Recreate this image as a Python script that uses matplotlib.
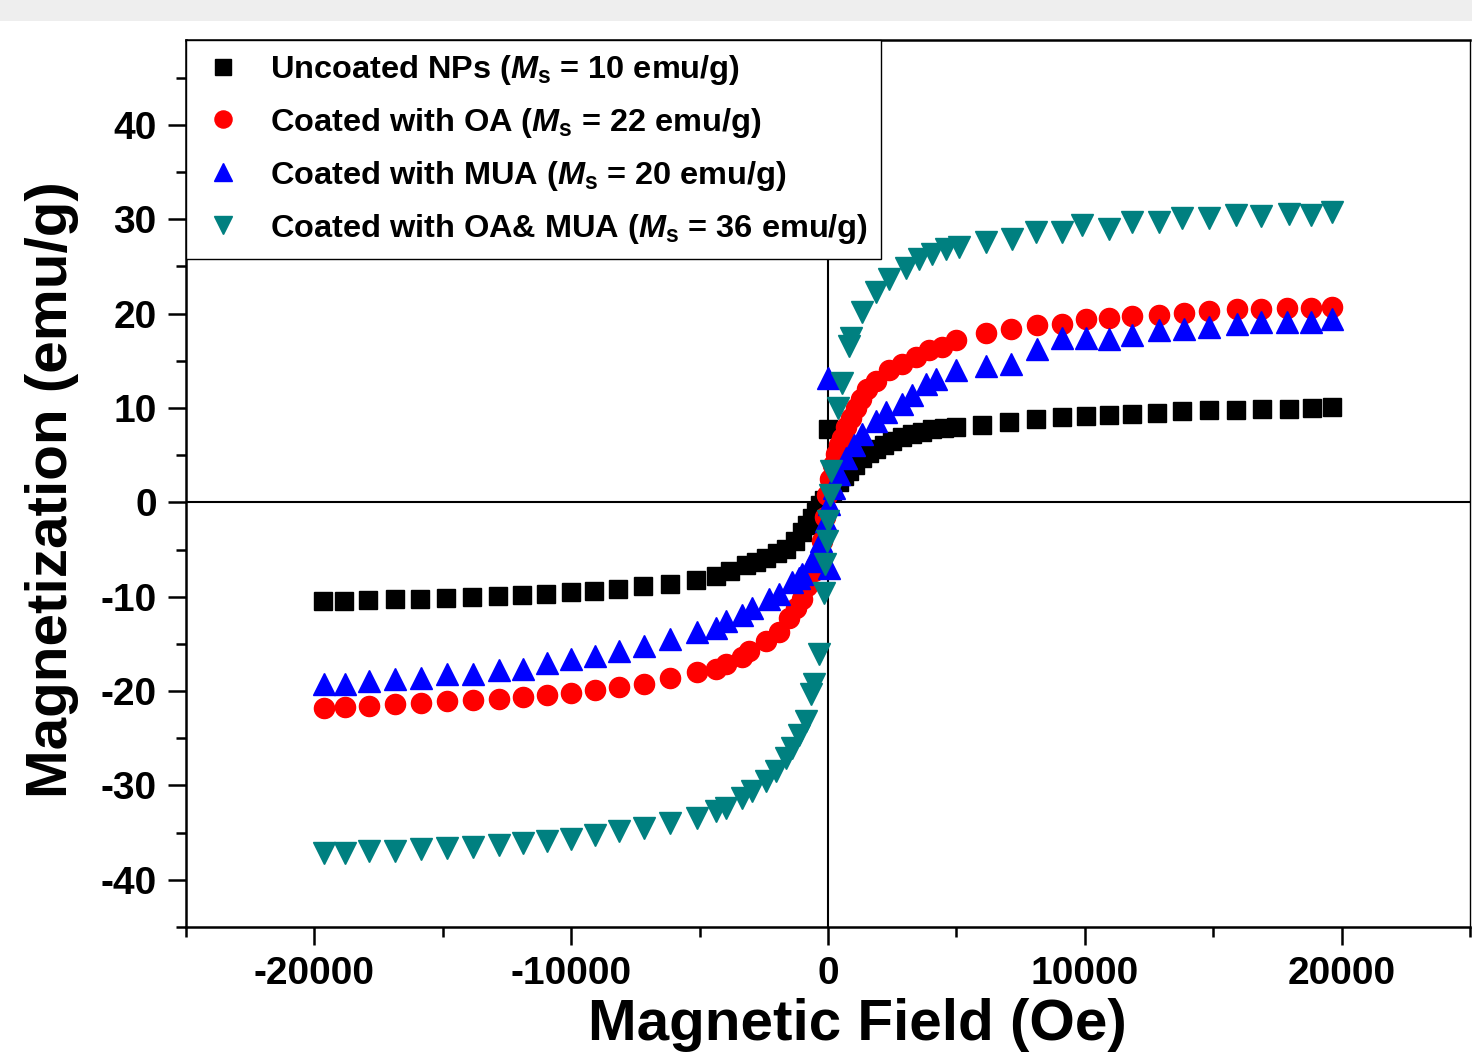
import matplotlib
matplotlib.use("Agg")
import matplotlib.pyplot as plt
from matplotlib.ticker import MultipleLocator
from matplotlib.patches import Rectangle

# fonts: bold Arial-like everywhere, bold italic M in the legend
plt.rcParams["font.family"] = "Liberation Sans"
plt.rcParams["font.weight"] = "bold"
plt.rcParams["axes.unicode_minus"] = False
plt.rcParams["mathtext.fontset"] = "custom"
plt.rcParams["mathtext.rm"] = "Liberation Sans:bold"
plt.rcParams["mathtext.it"] = "Liberation Sans:bold:italic"

# M-H data (H in Oe, M in emu/g)
H_uncoated = [-19650, -18830, -17900, -16880, -15870, -14860, -13850, -12840, -11900, -10970,
              -9990, -9100, -8170, -7200, -6150, -5140, -4360, -3800, -3190, -2800, -2410, -2000,
              -1630, -1300, -1010, -800, -620, -450, -300, -150, 0, 150, 430, 620, 820, 1050,
              1320, 1600, 1870, 2200, 2490, 2900, 3270, 3650, 4050, 4500, 5000, 5990, 7040,
              8090, 9110, 10040, 10930, 11830, 12800, 13770, 14820, 15870, 16890, 17940,
              18830, 19610]
M_uncoated = [-10.5, -10.4, -10.3, -10.2, -10.2, -10.1, -10.0, -9.9, -9.8, -9.7,
              -9.5, -9.4, -9.2, -8.9, -8.7, -8.2, -7.8, -7.3, -6.6, -6.3, -5.9, -5.4,
              -4.9, -4.1, -3.1, -2.4, -1.7, -1.0, -0.3, 0.3, 7.8, 1.2, 2.2, 2.8, 3.3, 4.0,
              4.7, 5.2, 5.7, 6.1, 6.5, 6.9, 7.2, 7.5, 7.8, 7.9, 8.0, 8.2, 8.5,
              8.8, 9.0, 9.2, 9.3, 9.4, 9.5, 9.7, 9.8, 9.8, 9.9, 9.9,
              10.0, 10.1]

H_oa = [-19610, -18790, -17860, -16850, -15840, -14830, -13820, -12800, -11870, -10930,
        -10000, -9070, -8130, -7160, -6150, -5100, -4360, -3970, -3350, -3070, -2410,
        -1900, -1520, -1250, -1010, -820, -540, -470, -230, -120, -20, 60, 200, 310, 430,
        540, 700, 890, 1080, 1280, 1500, 1870, 2370, 2880, 3420, 3930, 4430, 4980, 6150,
        7120, 8130, 9100, 10040, 10930, 11830, 12880, 13850, 14820, 15910, 16880, 17860,
        18790, 19610]
M_oa = [-21.8, -21.7, -21.6, -21.4, -21.3, -21.1, -20.9, -20.8, -20.6, -20.4,
        -20.2, -19.9, -19.6, -19.2, -18.6, -18.0, -17.7, -17.1, -16.4, -15.8, -14.7,
        -13.7, -12.3, -11.2, -10.2, -8.9, -7.3, -6.6, -4.1, -1.5, 0.8, 2.5, 4.0, 5.1, 6.1,
        6.8, 8.0, 8.9, 10.0, 11.0, 12.0, 12.9, 14.0, 14.7, 15.4, 16.2, 16.5, 17.2, 17.9,
        18.4, 18.8, 18.9, 19.4, 19.5, 19.7, 19.9, 20.1, 20.3, 20.5, 20.5, 20.6,
        20.6, 20.7]

H_mua = [-19610, -18790, -17860, -16850, -15840, -14830, -13820, -12800, -11870, -10930,
         -10000, -9070, -8130, -7160, -6150, -5100, -4360, -3970, -3350, -2960, -2300,
         -1900, -1400, -1130, -1010, -620, -270, -80, 0, 40, 50, 230, 430, 700, 1010, 1320,
         1870, 2260, 2880, 3270, 3810, 4200, 5000, 6150, 7120, 8130, 9100, 10040, 10930,
         11830, 12880, 13850, 14820, 15910, 16880, 17860, 18790, 19610]
M_mua = [-19.3, -19.2, -18.9, -18.7, -18.6, -18.2, -18.2, -17.8, -17.7, -17.0,
         -16.6, -16.3, -15.8, -15.2, -14.5, -13.7, -13.3, -12.6, -11.9, -11.2, -10.2,
         -9.7, -8.4, -8.0, -7.6, -6.2, -4.1, -2.0, 13.2, -0.2, -7.0, 1.5, 3.0, 4.7, 6.1, 7.2,
         8.6, 9.6, 10.4, 11.4, 12.5, 13.1, 14.0, 14.4, 14.7, 16.3, 17.4, 17.4, 17.3,
         17.7, 18.3, 18.4, 18.6, 18.9, 19.1, 19.1, 19.1, 19.4]

H_oa_mua = [-19610, -18790, -17860, -16850, -15840, -14830, -13820, -12800, -11870, -10930,
            -10000, -9070, -8130, -7160, -6150, -5100, -4360, -3970, -3350, -2960, -2410,
            -2020, -1630, -1400, -1130, -860, -660, -540, -350, -150, -100, -50, 0, 60, 120,
            400, 550, 820, 900, 1320, 1870, 2370, 3030, 3540, 4050, 4590, 5100, 6150, 7160,
            8090, 9100, 9880, 10930, 11830, 12880, 13770, 14820, 15870, 16880, 17940, 18790,
            19610]
M_oa_mua = [-37.2, -37.2, -36.9, -36.9, -36.7, -36.6, -36.5, -36.3, -36.1, -35.9,
            -35.7, -35.3, -34.8, -34.5, -34.0, -33.4, -32.7, -32.4, -31.3, -30.6, -29.5,
            -28.5, -27.1, -26.0, -24.6, -23.2, -20.3, -19.3, -16.1, -9.6, -6.5, -4.1, -2.0, 0.8, 3.3,
            10.0, 12.6, 16.6, 17.4, 20.2, 22.3, 23.7, 24.8, 25.8, 26.3, 26.8, 27.1, 27.6, 27.9,
            28.7, 28.7, 29.4, 29.0, 29.7, 29.7, 30.1, 30.1, 30.5, 30.3, 30.6, 30.5,
            30.8]

labels = [r"Uncoated NPs ($M_\mathrm{s}$ = 10 emu/g)",
          r"Coated with OA ($M_\mathrm{s}$ = 22 emu/g)",
          r"Coated with MUA ($M_\mathrm{s}$ = 20 emu/g)",
          r"Coated with OA& MUA ($M_\mathrm{s}$ = 36 emu/g)"]

fig = plt.figure(figsize=(14.72, 10.53), dpi=100)
# light grey strip along the top of the screenshot
fig.add_artist(Rectangle((0, 1 - 21 / 1053), 1, 21 / 1053, transform=fig.transFigure,
                         color="#eeeeee", lw=0))
ax = fig.add_axes([186 / 1472, 126 / 1053, 1284 / 1472, 887 / 1053])

ax.axhline(0, color="black", lw=1.5, zorder=1)
ax.axvline(0, color="black", lw=1.5, zorder=1)

ax.plot(H_uncoated, M_uncoated, "s", ls="none", color="black", ms=13.5, label=labels[0], zorder=3)
ax.plot(H_oa, M_oa, "o", ls="none", color="#ff0000", ms=14.5, label=labels[1], zorder=3)
ax.plot(H_mua, M_mua, "^", ls="none", color="#0000ff", ms=15.5, label=labels[2], zorder=3)
ax.plot(H_oa_mua, M_oa_mua, "v", ls="none", color="#008080", ms=15.5, label=labels[3], zorder=3)

ax.set_xlim(-25000, 25000)
ax.set_ylim(-45, 49)
ax.xaxis.set_major_locator(MultipleLocator(10000))
ax.xaxis.set_minor_locator(MultipleLocator(5000))
ax.yaxis.set_major_locator(MultipleLocator(10))
ax.yaxis.set_minor_locator(MultipleLocator(5))

ax.tick_params(which="both", direction="out", top=False, right=False, width=1.8)
ax.tick_params(which="major", length=13, labelsize=28, pad=8)
ax.tick_params(which="minor", length=7)
for s in ["left", "bottom", "top"]:
    ax.spines[s].set_linewidth(1.8)
ax.spines["right"].set_linewidth(1.0)

ax.set_xlabel("Magnetic Field (Oe)", fontsize=42, fontweight="bold", va="baseline")
ax.xaxis.set_label_coords(0.5226, -0.127)
ax.set_ylabel("Magnetization (emu/g)", fontsize=42, fontweight="bold", va="center")
ax.yaxis.set_label_coords(-0.104, 0.493)

leg = ax.legend(loc="upper left", bbox_to_anchor=(0, 1), borderaxespad=0, fontsize=23.4,
                fancybox=False, edgecolor="black", framealpha=1, handlelength=1.45,
                handletextpad=0.75, borderpad=0.4, labelspacing=0.58, markerscale=0.85)
leg.get_frame().set_linewidth(1.0)

fig.savefig("out.png", dpi=100)
